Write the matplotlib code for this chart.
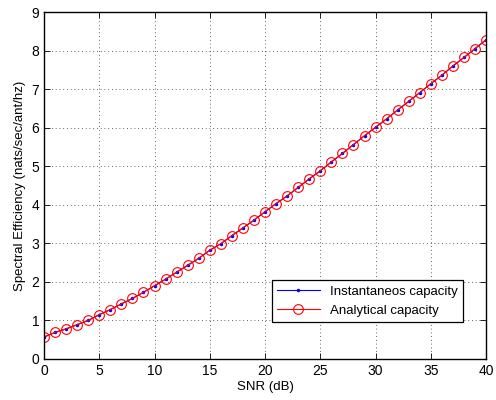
import matplotlib
matplotlib.use('Agg')
import matplotlib.pyplot as plt

snr_db = list(range(0, 41))
instant_cap = [0.57, 0.69, 0.78, 0.89, 1.00, 1.15, 1.28, 1.43, 1.57, 1.73,
               1.90, 2.07, 2.25, 2.43, 2.61, 2.82, 2.99, 3.20, 3.40, 3.60,
               3.82, 4.03, 4.23, 4.45, 4.67, 4.88, 5.11, 5.33, 5.56, 5.79,
               6.01, 6.23, 6.46, 6.68, 6.91, 7.14, 7.36, 7.60, 7.82, 8.05,
               8.28]
analytic_cap = [0.57, 0.69, 0.78, 0.89, 1.00, 1.15, 1.28, 1.43, 1.57, 1.73,
                1.90, 2.07, 2.25, 2.43, 2.61, 2.82, 2.99, 3.20, 3.40, 3.60,
                3.82, 4.03, 4.23, 4.45, 4.67, 4.88, 5.11, 5.33, 5.56, 5.79,
                6.01, 6.23, 6.46, 6.68, 6.91, 7.14, 7.36, 7.60, 7.82, 8.05,
                8.28]

plt.rcParams['font.family'] = ['Liberation Sans', 'DejaVu Sans']
plt.rcParams['font.size'] = 9.5

fig = plt.figure(figsize=(4.96, 4.0), dpi=100)
ax = fig.add_axes([0.0887, 0.1025, 0.8913, 0.8675])

ax.plot(snr_db, instant_cap, '-', color='blue', marker='.', markersize=3,
        linewidth=0.8, label='Instantaneos capacity')
ax.plot(snr_db, analytic_cap, '-', color='red', marker='o', markersize=7,
        markerfacecolor='none', markeredgewidth=0.8, linewidth=0.8,
        label='Analytical capacity')

ax.set_xlim(0, 40)
ax.set_ylim(0, 9)
ax.set_xticks(range(0, 41, 5))
ax.set_yticks(range(0, 10))
ax.grid(True, linestyle=(0, (1, 3.5)), color='black', linewidth=0.6, alpha=0.8)
ax.tick_params(direction='in', top=True, right=True, length=4, width=0.6,
               labelsize=10)
for s in ax.spines.values():
    s.set_linewidth(1.0)

ax.set_xlabel('SNR (dB)', labelpad=2)
ax.set_ylabel('Spectral Efficiency (nats/sec/ant/hz)', labelpad=4)

leg = ax.legend(loc='lower right', bbox_to_anchor=(0.948, 0.107),
                fancybox=False, edgecolor='black', framealpha=1,
                borderaxespad=0, handlelength=3.2)
leg.get_frame().set_linewidth(0.9)

fig.savefig('out.png', dpi=100)
